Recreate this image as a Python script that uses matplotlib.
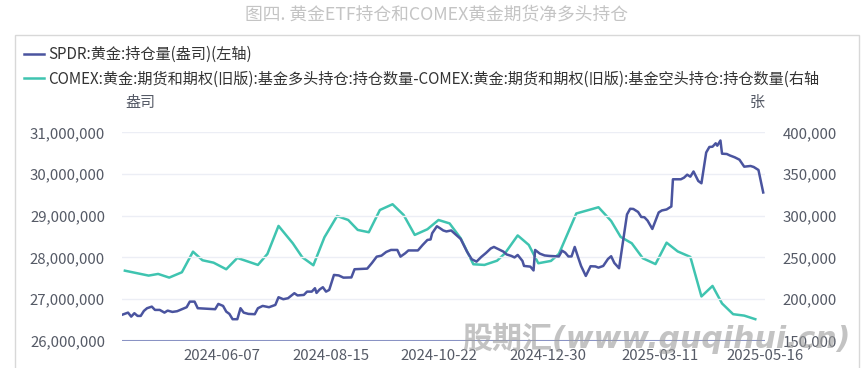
import numpy as np
import pandas as pd
import matplotlib
matplotlib.use('Agg')
from matplotlib import pyplot as plt
from matplotlib.patches import Rectangle

plt.rcParams['font.family'] = ['Noto Sans CJK SC', 'DejaVu Sans']
plt.rcParams['axes.unicode_minus'] = False

# SPDR holdings (ounces), left axis
spdr_dates = [
    '2024-04-05', '2024-04-09', '2024-04-11', '2024-04-13', '2024-04-15', '2024-04-17',
    '2024-04-19', '2024-04-21', '2024-04-24', '2024-04-26', '2024-04-29', '2024-05-02',
    '2024-05-04', '2024-05-07', '2024-05-10', '2024-05-13', '2024-05-16', '2024-05-18',
    '2024-05-21', '2024-05-23', '2024-06-03', '2024-06-05', '2024-06-08', '2024-06-10',
    '2024-06-12', '2024-06-14', '2024-06-17', '2024-06-19', '2024-06-21', '2024-06-24',
    '2024-06-28', '2024-06-30', '2024-07-03', '2024-07-07', '2024-07-11', '2024-07-13',
    '2024-07-16', '2024-07-19', '2024-07-23', '2024-07-25', '2024-07-29', '2024-07-31',
    '2024-08-03', '2024-08-05', '2024-08-06', '2024-08-08', '2024-08-10', '2024-08-12',
    '2024-08-14', '2024-08-17', '2024-08-20', '2024-08-23', '2024-08-28', '2024-08-30',
    '2024-09-07', '2024-09-10', '2024-09-13', '2024-09-16', '2024-09-19', '2024-09-22',
    '2024-09-26', '2024-09-28', '2024-10-01', '2024-10-03', '2024-10-09', '2024-10-12',
    '2024-10-15', '2024-10-17', '2024-10-18', '2024-10-21', '2024-10-23', '2024-10-25',
    '2024-10-27', '2024-10-30', '2024-11-01', '2024-11-05', '2024-11-09', '2024-11-12',
    '2024-11-15', '2024-11-18', '2024-11-21', '2024-11-24', '2024-11-26', '2024-11-29',
    '2024-12-02', '2024-12-04', '2024-12-07', '2024-12-09', '2024-12-11', '2024-12-14',
    '2024-12-15', '2024-12-19', '2024-12-21', '2024-12-22', '2024-12-25', '2024-12-28',
    '2024-12-31', '2025-01-06', '2025-01-08', '2025-01-10', '2025-01-12', '2025-01-14',
    '2025-01-16', '2025-01-18', '2025-01-20', '2025-01-23', '2025-01-26', '2025-01-29',
    '2025-01-31', '2025-02-03', '2025-02-06', '2025-02-08', '2025-02-10', '2025-02-13',
    '2025-02-15', '2025-02-18', '2025-02-20', '2025-02-22', '2025-02-25', '2025-02-27',
    '2025-03-01', '2025-03-03', '2025-03-06', '2025-03-10', '2025-03-12', '2025-03-15',
    '2025-03-18', '2025-03-19', '2025-03-24', '2025-03-26', '2025-03-28', '2025-03-30',
    '2025-04-01', '2025-04-04', '2025-04-06', '2025-04-09', '2025-04-11', '2025-04-13',
    '2025-04-15', '2025-04-16', '2025-04-18', '2025-04-19', '2025-04-22', '2025-04-24',
    '2025-04-27', '2025-04-30', '2025-05-03', '2025-05-07', '2025-05-09', '2025-05-12',
    '2025-05-15',
]
spdr_oz = [
    26618700, 26673800, 26577900, 26659400, 26594700, 26594700,
    26714600, 26779300, 26817700, 26738600, 26738600, 26673800,
    26721800, 26690600, 26707400, 26755400, 26803300, 26937600,
    26937600, 26779300, 26755400, 26882500, 26834500, 26697800,
    26642700, 26515600, 26515600, 26779300, 26673800, 26642700,
    26635500, 26779300, 26834500, 26803300, 26858500, 27043100,
    26995200, 27019200, 27139100, 27086300, 27098300, 27177400,
    27177400, 27259000, 27146300, 27230200, 27282900, 27177400,
    27218200, 27577900, 27565900, 27513200, 27518000, 27714600,
    27729000, 27865700, 28016800, 28040700, 28129500, 28177400,
    28177400, 28016800, 28098300, 28165400, 28165400, 28297300,
    28417200, 28429200, 28577900, 28745800, 28697800, 28645100,
    28621100, 28645100, 28577900, 28441200, 28136700, 27954400,
    27896900, 28009600, 28105500, 28213400, 28249400, 28194200,
    28136700, 28069500, 28033600, 27997600, 28057500, 27913600,
    27793700, 27777000, 27685800, 28177400, 28088700, 28045500,
    28033600, 28021600, 28160600, 28112700, 28021600, 28021600,
    28249400, 28016800, 27793700, 27553900, 27786500, 27781700,
    27753000, 27793700, 27961600, 28026400, 27865700, 27738600,
    28256600, 29028800, 29165500, 29160700, 29088700, 28968800,
    28961600, 28880100, 28681000, 29076700, 29124700, 29148700,
    29220600, 29872900, 29872900, 29911300, 29983200, 29935200,
    30059900, 29832100, 29777000, 30515600, 30647500, 30654700,
    30736200, 30678700, 30803400, 30486800, 30479600, 30443600,
    30400500, 30342900, 30175100, 30191800, 30167900, 30095900,
    29556300,
]

# COMEX managed money net long (contracts), right axis
comex_dates = [
    '2024-04-07', '2024-04-22', '2024-04-28', '2024-05-05', '2024-05-13', '2024-05-20',
    '2024-05-26', '2024-06-02', '2024-06-10', '2024-06-17', '2024-06-30', '2024-07-06',
    '2024-07-13', '2024-07-22', '2024-07-28', '2024-08-04', '2024-08-11', '2024-08-19',
    '2024-08-26', '2024-09-01', '2024-09-08', '2024-09-15', '2024-09-23', '2024-09-30',
    '2024-10-07', '2024-10-15', '2024-10-22', '2024-10-29', '2024-11-05', '2024-11-13',
    '2024-11-20', '2024-11-28', '2024-12-03', '2024-12-11', '2024-12-18', '2024-12-24',
    '2025-01-01', '2025-01-06', '2025-01-17', '2025-01-31', '2025-02-08', '2025-02-14',
    '2025-02-21', '2025-02-28', '2025-03-08', '2025-03-15', '2025-03-22', '2025-03-30',
    '2025-04-06', '2025-04-13', '2025-04-19', '2025-04-26', '2025-05-03', '2025-05-10',
]
comex_net = [
    234000, 228100, 230100, 225700, 232100, 256800,
    246500, 243600, 235700, 249300, 240900, 254100,
    287700, 266900, 250100, 240500, 274100, 299600,
    294800, 282900, 280100, 306800, 313700, 300800,
    276900, 283700, 294800, 290700, 272900, 241700,
    240900, 246000, 254900, 276300, 264900, 242900,
    245700, 254100, 302600, 310100, 293600, 274500,
    266900, 248900, 241900, 267600, 257100, 250500,
    203100, 215700, 194700, 181800, 180100, 175800,
]

tick_dates = ['2024-06-07', '2024-08-15', '2024-10-22', '2024-12-30', '2025-03-11', '2025-05-16']
left_ticks = [26000000, 27000000, 28000000, 29000000, 30000000, 31000000]
right_ticks = [150000, 200000, 250000, 300000, 350000, 400000]

title = '图四. 黄金ETF持仓和COMEX黄金期货净多头持仓'
label_spdr = 'SPDR:黄金:持仓量(盎司)(左轴)'
label_comex = ('COMEX:黄金:期货和期权(旧版):基金多头持仓:持仓数量-'
               'COMEX:黄金:期货和期权(旧版):基金空头持仓:持仓数量(右轴')

blue = '#4a549f'
teal = '#3fc4b0'
tick_col = '#555a66'

W, H = 863, 368
fig = plt.figure(figsize=(W / 100, H / 100), dpi=100)

# outer frame
fig.add_artist(Rectangle((15 / W, -0.1), (859 - 15) / W, 1.1 - 35 / H,
                         transform=fig.transFigure, fill=False,
                         edgecolor='#d8d8d8', linewidth=1))

fig.text(436 / W, 1 - 14 / H, title, ha='center', va='center',
         fontsize=12.8, color='#c4c4c4')

ax = fig.add_axes([121.7 / W, 1 - 340.7 / H, (764.8 - 121.7) / W, (340.7 - 132.3) / H])
ax2 = ax.twinx()

x1 = pd.to_datetime(spdr_dates)
x2 = pd.to_datetime(comex_dates)

l1, = ax.plot(x1, spdr_oz, color=blue, lw=1.8, zorder=3)
l2, = ax2.plot(x2, comex_net, color=teal, lw=1.8, zorder=2)
ax.set_zorder(ax2.get_zorder() + 1)
ax.patch.set_visible(False)

ax.set_xlim(pd.Timestamp('2024-04-05'), pd.Timestamp('2025-05-16'))
ax.set_ylim(26000000, 31000000)
ax2.set_ylim(150000, 400000)

ax.set_yticks(left_ticks)
ax.set_yticklabels([f'{v:,}' for v in left_ticks])
ax2.set_yticks(right_ticks)
ax2.set_yticklabels([f'{v:,}' for v in right_ticks])
ax.set_xticks(pd.to_datetime(tick_dates))
ax.set_xticklabels(tick_dates)

for a in (ax, ax2):
    for s in a.spines.values():
        s.set_visible(False)
    a.tick_params(length=0, labelsize=10.8, labelcolor=tick_col)
ax.tick_params(axis='y', pad=12)
ax2.tick_params(axis='y', pad=13)
ax.tick_params(axis='x', pad=6)

ax.grid(axis='y', color='#eceef5', lw=1)
ax.set_axisbelow(True)
ax.axhline(26000000, color='#8a93c4', lw=1.5, zorder=4)

fig.legend([l1, l2], [label_spdr, label_comex], loc='upper left',
           bbox_to_anchor=(24 / W, 1 - 46 / H), frameon=False, fontsize=10.9,
           handlelength=1.3, handletextpad=0.3, labelspacing=0.5,
           labelcolor='#333333', borderaxespad=0, borderpad=0)

fig.text(140 / W, 1 - 103 / H, '盎司', ha='center', va='center', fontsize=10.8, color=tick_col)
fig.text(757 / W, 1 - 103 / H, '张', ha='center', va='center', fontsize=10.8, color=tick_col)

# watermark
fig.text(462 / W, 1 - 338 / H, '股期汇(www.guqihui.cn)', ha='left', va='center',
         fontsize=21.6, fontweight='bold', fontstyle='italic', color='#9c9c9c', alpha=0.6,
         family=['DejaVu Sans', 'Noto Sans CJK SC'])

fig.savefig('out.png', dpi=100)
